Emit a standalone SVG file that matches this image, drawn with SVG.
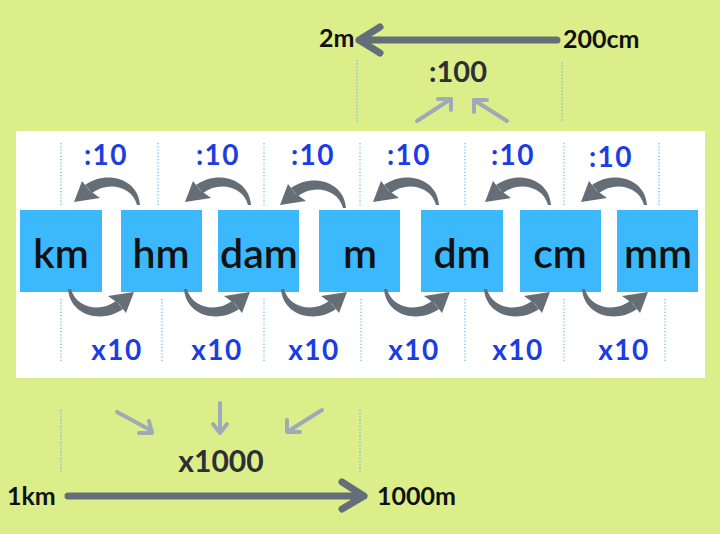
<svg xmlns="http://www.w3.org/2000/svg" xmlns:xlink="http://www.w3.org/1999/xlink" width="720" height="534" viewBox="0 0 720 534">
<style>
.box{fill:#3cb8fd}
.bt{font-family:Lato,"Liberation Sans",sans-serif;font-size:41px;font-weight:600;fill:#111;text-anchor:middle}
.blue{font-family:Lato,"Liberation Sans",sans-serif;font-size:28px;font-weight:700;fill:#1b3de3;text-anchor:middle;letter-spacing:1.5px}
.dark{font-family:Lato,"Liberation Sans",sans-serif;font-weight:700;fill:#2b2f36;text-anchor:middle}
.lab{font-family:Lato,"Liberation Sans",sans-serif;font-size:25px;font-weight:700;fill:#111}
.dot{stroke:#5cb6f2;stroke-width:1.2;stroke-dasharray:1.2 2;fill:none}
.big{stroke:#646e78;stroke-width:7;stroke-linecap:round;stroke-linejoin:round;fill:none}
.thin{stroke:#9eabb6;stroke-width:4;stroke-linecap:round;stroke-linejoin:round;fill:none}
</style>
<defs>
<g id="curl" fill="#656e77">
<path d="M66,3 C64,-24 32,-32 11,-17 L18,-9 C34,-21 58,-16 63,3 Z"/>
<polygon points="0,0 8,-21 15,-12 26,-4"/>
</g>
</defs>
<rect width="720" height="534" fill="#dcee89"/>
<rect x="16" y="131" width="689" height="247" fill="#ffffff"/>
<g id="dotted">
<line class="dot" x1="61" y1="143" x2="61" y2="206"/>
<line class="dot" x1="158" y1="143" x2="158" y2="206"/>
<line class="dot" x1="264" y1="143" x2="264" y2="206"/>
<line class="dot" x1="360" y1="143" x2="360" y2="206"/>
<line class="dot" x1="465" y1="143" x2="465" y2="206"/>
<line class="dot" x1="564" y1="143" x2="564" y2="206"/>
<line class="dot" x1="659" y1="143" x2="659" y2="206"/>
<line class="dot" x1="61" y1="299" x2="61" y2="362"/>
<line class="dot" x1="162" y1="299" x2="162" y2="362"/>
<line class="dot" x1="264" y1="299" x2="264" y2="362"/>
<line class="dot" x1="361" y1="299" x2="361" y2="362"/>
<line class="dot" x1="465" y1="299" x2="465" y2="362"/>
<line class="dot" x1="564" y1="299" x2="564" y2="362"/>
<line class="dot" x1="665" y1="299" x2="665" y2="362"/>
<line class="dot" x1="357" y1="60" x2="357" y2="122"/>
<line class="dot" x1="562" y1="62" x2="562" y2="122"/>
<line class="dot" x1="61" y1="410" x2="61" y2="473"/>
<line class="dot" x1="360" y1="410" x2="360" y2="473"/>
</g>
<g id="node-km"><rect class="box" x="20" y="210" width="82" height="82"/><text class="bt" x="61" y="268">km</text></g>
<g id="node-hm"><rect class="box" x="121" y="210" width="81" height="82"/><text class="bt" x="161" y="268">hm</text></g>
<g id="node-dam"><rect class="box" x="218" y="210" width="81" height="82"/><text class="bt" x="259" y="268">dam</text></g>
<g id="node-m"><rect class="box" x="319" y="210" width="81" height="82"/><text class="bt" x="360" y="268">m</text></g>
<g id="node-dm"><rect class="box" x="421" y="210" width="82" height="82"/><text class="bt" x="462" y="268">dm</text></g>
<g id="node-cm"><rect class="box" x="520" y="210" width="81" height="82"/><text class="bt" x="560" y="268">cm</text></g>
<g id="node-mm"><rect class="box" x="617" y="210" width="81" height="82"/><text class="bt" x="658" y="268">mm</text></g>
<g id="connectors">
<use xlink:href="#curl" transform="translate(74,202)"/>
<use xlink:href="#curl" transform="translate(185,202)"/>
<use xlink:href="#curl" transform="translate(280,205)"/>
<use xlink:href="#curl" transform="translate(373,202)"/>
<use xlink:href="#curl" transform="translate(485,202)"/>
<use xlink:href="#curl" transform="translate(581,202)"/>
<use xlink:href="#curl" transform="translate(134,292) rotate(180)"/>
<use xlink:href="#curl" transform="translate(250,292) rotate(180)"/>
<use xlink:href="#curl" transform="translate(347,292) rotate(180)"/>
<use xlink:href="#curl" transform="translate(450,292) rotate(180)"/>
<use xlink:href="#curl" transform="translate(550,292) rotate(180)"/>
<use xlink:href="#curl" transform="translate(648,292) rotate(180)"/>
<path class="big" d="M557,40 H359 M380,27 L359,40 L380,53"/>
<path class="big" d="M68,496 H364 M342,482 L364,496 L342,509"/>
<path class="thin" d="M417,121 L451,99 M438,99 H451 V110"/>
<path class="thin" d="M507,121 L474,100 M474,112 V100 H487"/>
<path class="thin" d="M117,412 L152,431 M139,433 H152 L149,421"/>
<path class="thin" d="M220,403 V433 M213,424 L220,433 L227,424"/>
<path class="thin" d="M322,410 L287,432 M287,420 V432 H300"/>
</g>
<g id="labels">
<text class="blue" x="106" y="165">:10</text>
<text class="blue" x="218" y="165">:10</text>
<text class="blue" x="313" y="165">:10</text>
<text class="blue" x="409" y="165">:10</text>
<text class="blue" x="513" y="165">:10</text>
<text class="blue" x="611" y="167">:10</text>
<text class="blue" x="117" y="360">x10</text>
<text class="blue" x="217" y="360">x10</text>
<text class="blue" x="314" y="360">x10</text>
<text class="blue" x="414" y="360">x10</text>
<text class="blue" x="518" y="360">x10</text>
<text class="blue" x="624" y="360">x10</text>
<text class="dark" x="458" y="82" font-size="29">:100</text>
<text class="dark" x="221" y="472" font-size="30">x1000</text>
<text class="lab" x="319" y="47">2m</text>
<text class="lab" x="563" y="48">200cm</text>
<text class="lab" x="7" y="505">1km</text>
<text class="lab" x="377" y="505">1000m</text>
</g>
</svg>
